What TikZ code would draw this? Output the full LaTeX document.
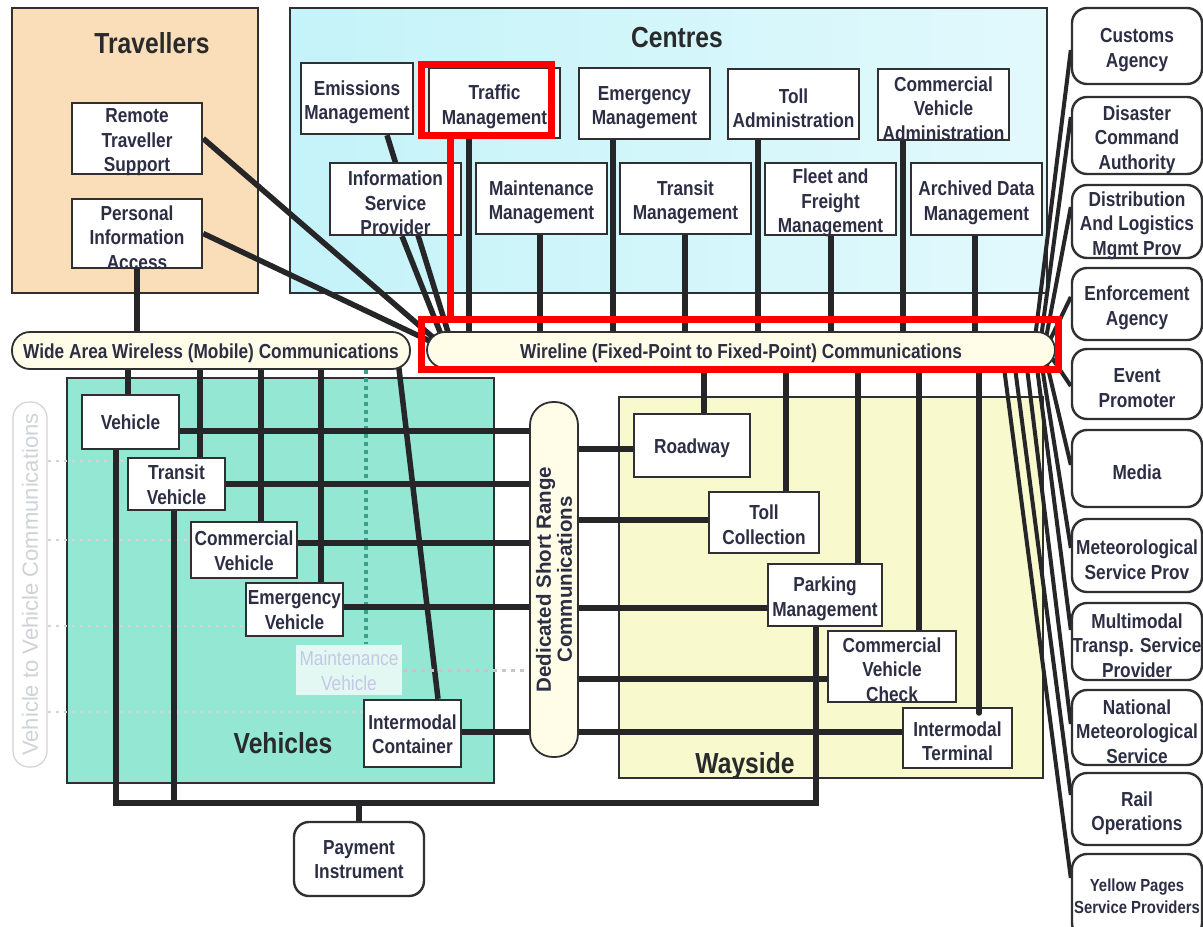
\documentclass[tikz,border=0pt]{standalone}
\usepackage{fontspec}
\setmainfont{Liberation Sans}[FakeStretch=0.85]
\newfontfamily\vvfont{Liberation Sans}
\usetikzlibrary{calc}
\pgfdeclarelayer{back}
\pgfdeclarelayer{mid}
\pgfsetlayers{back,mid,main}
\definecolor{trav}{RGB}{250,222,186}
\definecolor{centL}{RGB}{196,243,249}
\definecolor{centR}{RGB}{226,249,252}
\definecolor{veh}{RGB}{148,231,211}
\definecolor{way}{RGB}{248,250,206}
\definecolor{pillc}{RGB}{255,252,232}
\definecolor{txt}{RGB}{44,46,68}
\definecolor{titc}{RGB}{40,42,44}
\definecolor{boxc}{RGB}{48,48,50}
\definecolor{linec}{RGB}{38,38,40}
\definecolor{fadec}{RGB}{218,208,214}
\definecolor{maintc}{RGB}{196,200,228}
\definecolor{vvtext}{RGB}{206,211,216}
\definecolor{tealdot}{RGB}{58,160,140}
\newcommand\ndfont{\fontsize{20.3}{24.5}\selectfont\bfseries}
\newcommand\smfont{\fontsize{17.5}{22}\selectfont\bfseries}
\newcommand\mvfont{\fontsize{20.3}{24.5}\selectfont}
\newcommand\ttlfont{\fontsize{29}{34}\selectfont\bfseries}
\def\tsh{4}
\newcommand\mkbox[7][box]{%
  \node[#1,minimum width={(#5-#3)*1pt},minimum height={(#6-#4)*1pt}] (#2) at ({(#3+#5)/2},{(#4+#6)/2}) {};%
  \node[#1,draw=none,fill=none,minimum width=0pt,minimum height=0pt] (#2-t) at ([yshift=-\tsh pt]#2.center) {#7};}
\begin{document}
\begin{tikzpicture}[x=1pt,y=-1pt,
  box/.style={draw=boxc, line width=2.4pt, fill=white, inner sep=0pt, align=center, font=\ndfont, text=txt},
  term/.style={box, rounded corners=15pt},
  pill/.style={draw=boxc, line width=1.8pt, fill=pillc, inner sep=0pt, align=center, font=\ndfont, text=txt, rounded corners=18pt},
  area/.style={draw=boxc, line width=1.8pt},
  ttl/.style={font=\ttlfont, text=titc, anchor=base, inner sep=0pt},
  link/.style={draw=linec, line width=5.5pt},
  flink/.style={draw=linec, line width=4pt},
  fadedot/.style={draw=fadec, line width=2.5pt, dash pattern=on 3pt off 5pt},
  tdot/.style={draw=tealdot, line width=3.5pt, dash pattern=on 4pt off 4pt},
  mdot/.style={draw=fadec!85!gray, line width=3pt, dash pattern=on 4pt off 5pt},
  redl/.style={draw=red, line width=7pt, line join=miter},
  mvstyle/.style={box, draw=none, fill=white, fill opacity=0.75, text opacity=1, text=maintc, font=\mvfont},
]
\useasboundingbox (0,0) rectangle (1203,927);
\begin{pgfonlayer}{back}
\fill[white] (0,0) rectangle (1203,927);
\draw[area, fill=trav] (12,8) rectangle (258,293);
\shade[left color=centL, right color=centR] (290,8) rectangle (1047,293);
\draw[area] (290,8) rectangle (1047,293);
\draw[area, fill=veh] (67,378) rectangle (494,783);
\draw[area, fill=way] (619,397) rectangle (1043,778);
\end{pgfonlayer}

% titles
\node[ttl] (travT) at (152,53) {Travellers};
\node[ttl] (centT) at (677,47) {Centres};
\node[ttl] (vehT) at (283,753) {Vehicles};
\node[ttl] (wayT) at (745,773) {Wayside};

% travellers
\mkbox{rts}{72}{103}{202}{174}{Remote\\Traveller\\Support}
\mkbox{pia}{72}{199}{202}{268}{Personal\\Information\\Access}

% centres
\mkbox{em}{301}{63}{413}{134}{Emissions\\Management}
\mkbox{tm}{429}{68}{560}{138}{Traffic\\Management}
\mkbox{emg}{579}{68}{710}{139}{Emergency\\Management}
\mkbox{ta}{728}{69}{859}{139}{Toll\\Administration}
\mkbox{cva}{878}{69}{1009}{140}{Commercial\\Vehicle\\Administration}
\mkbox{isp}{330}{163}{461}{235}{Information\\Service\\Provider}
\mkbox{mm}{476}{163}{607}{234}{Maintenance\\Management}
\mkbox{trm}{620}{163}{751}{234}{Transit\\Management}
\mkbox{ffm}{765}{163}{896}{235}{Fleet and\\Freight\\Management}
\mkbox{adm}{911}{163}{1042}{235}{Archived Data\\Management}

% terminators
\mkbox[term]{cust}{1072}{8}{1202}{84}{Customs\\Agency}
\mkbox[term]{dis}{1072}{97}{1202}{174}{Disaster\\Command\\Authority}
\mkbox[term]{dist}{1072}{185}{1202}{258}{Distribution\\And Logistics\\Mgmt Prov}
\mkbox[term]{enf}{1072}{268}{1202}{340}{Enforcement\\Agency}
\mkbox[term]{evt}{1072}{349}{1202}{419}{Event\\Promoter}
\mkbox[term]{media}{1072}{430}{1202}{507}{Media}
\mkbox[term]{met}{1072}{519}{1202}{592}{Meteorological\\Service Prov}
\mkbox[term]{mmt}{1072}{603}{1202}{680}{Multimodal\\Transp. Service\\Provider}
\mkbox[term]{nat}{1072}{690}{1202}{765}{National\\Meteorological\\Service}
\mkbox[term]{rail}{1072}{773}{1202}{845}{Rail\\Operations}
\def\tsh{0}
\mkbox[term, font=\smfont]{yp}{1072}{854}{1202}{938}{Yellow Pages\\Service Providers}

% communications
\def\tsh{3}
\mkbox[pill]{wa}{12}{332}{410}{369}{Wide Area Wireless (Mobile) Communications}
\mkbox[pill]{wl}{427}{332}{1055}{368}{Wireline (Fixed-Point to Fixed-Point) Communications}
\node[pill, rotate=90, minimum width=355pt, minimum height=48pt, rounded corners=23pt, font=\vvfont\bfseries\fontsize{20.5}{21}\selectfont] (dsrc) at (554,579.5) {Dedicated Short Range\\Communications};
\node[rotate=90, draw=fadec, line width=1.2pt, rounded corners=16pt, minimum width=365pt, minimum height=34pt, inner sep=0pt, font=\vvfont\fontsize{22}{24}\selectfont, text=vvtext] (v2v) at (30,584.5) {Vehicle to Vehicle Communications};

% wayside
\mkbox{rw}{634}{414}{750}{477}{Roadway}
\def\tsh{2}
\mkbox{tc}{709}{492}{819}{553}{Toll\\Collection}
\def\tsh{4}
\mkbox{pm}{768}{564}{882}{626}{Parking\\Management}
\def\tsh{3}
\mkbox{cvc}{828}{631}{956}{702}{Commercial\\Vehicle\\Check}
\mkbox{it}{903}{708}{1012}{768}{Intermodal\\Terminal}

% vehicles
\def\tsh{0.5}
\mkbox{veh}{82}{395}{179}{449}{Vehicle}
\mkbox{tv}{128}{458}{225}{510}{Transit\\Vehicle}
\mkbox{cv}{191}{522}{297}{578}{Commercial\\Vehicle}
\mkbox{ev}{246}{583}{343}{636}{Emergency\\Vehicle}
\mkbox[mvstyle]{mv}{296}{645}{402}{695}{Maintenance\\Vehicle}
\mkbox{ic}{364}{700}{461}{767}{Intermodal\\Container}

% payment
\mkbox[term]{pi}{294}{822}{424}{896}{Payment\\Instrument}

\begin{pgfonlayer}{mid}
% travellers to wireline
\coordinate (wlA) at (436,340);
\coordinate (wlB) at (436,344);
\coordinate (wlC) at (444,342);
\coordinate (wlD) at (452,345);
\draw[link] (rts.east) -- (wlA);
\draw[link] (pia.east) -- (wlB);
\draw[link] (pia.south) -- (pia.south |- wa.center);
\draw[link] (387,0 |- em.south) -- (wlD);
\draw[link] (402,0 |- isp.south) -- (wlC);
% centres to wireline
\draw[link] (469,0 |- tm.south) -- (469,0 |- wl.center);
\draw[link] (613,0 |- emg.south) -- (613,0 |- wl.center);
\draw[link] (758,0 |- ta.south) -- (758,0 |- wl.center);
\draw[link] (903,0 |- cva.south) -- (903,0 |- wl.center);
\draw[link] (540,0 |- mm.south) -- (540,0 |- wl.center);
\draw[link] (685,0 |- trm.south) -- (685,0 |- wl.center);
\draw[link] (831,0 |- ffm.south) -- (831,0 |- wl.center);
\draw[link] (975,0 |- adm.south) -- (975,0 |- wl.center);
% wide area to vehicles
\draw[link] (128,0 |- wa.center) -- (128,0 |- veh.north);
\draw[link] (200,0 |- wa.center) -- (200,0 |- tv.north);
\draw[link] (261,0 |- wa.center) -- (261,0 |- cv.north);
\draw[link] (321,0 |- wa.center) -- (321,0 |- ev.north);
\coordinate (waE) at (397,352);
\draw[link] (waE) -- (438,0 |- ic.north);
\draw[tdot] (366,0 |- wa.south) -- (366,0 |- mv.north);
% vehicle to vehicle
\draw[fadedot] (v2v.south |- 0,461) -- (tv.west |- 0,461);
\draw[fadedot] (v2v.south |- 0,540) -- (cv.west |- 0,540);
\draw[fadedot] (v2v.south |- 0,626) -- (ev.west |- 0,626);
\draw[fadedot] (v2v.south |- 0,712) -- (ic.west |- 0,712);
% vehicles to DSRC
\draw[link] (veh.east |- 0,431) -- (dsrc.center |- 0,431);
\draw[link] (tv.east |- 0,484) -- (dsrc.center |- 0,484);
\draw[link] (cv.east |- 0,543) -- (dsrc.center |- 0,543);
\draw[link] (ev.east |- 0,607) -- (dsrc.center |- 0,607);
\draw[mdot] (mv.east) -- (mv.east -| dsrc.center);
\draw[link] (ic.east |- 0,732) -- (dsrc.center |- 0,732);
% DSRC to wayside
\draw[link] (dsrc.center |- 0,449) -- (rw.west |- 0,449);
\draw[link] (dsrc.center |- 0,520) -- (tc.west |- 0,520);
\draw[link] (dsrc.center |- 0,608) -- (pm.west |- 0,608);
\draw[link] (dsrc.center |- 0,679) -- (cvc.west |- 0,679);
\draw[link] (dsrc.center |- 0,732) -- (it.west |- 0,732);
% wireline to wayside
\draw[link] (704,0 |- wl.center) -- (704,0 |- rw.north);
\draw[link] (786,0 |- wl.center) -- (786,0 |- tc.north);
\draw[link] (858,0 |- wl.center) -- (858,0 |- pm.north);
\draw[link] (919,0 |- wl.center) -- (919,0 |- cvc.north);
% payment loop
\coordinate (bl1) at (116,803);
\coordinate (bl2) at (174,803);
\coordinate (br) at (816,803);
\draw[link] (116,0 |- veh.south) -- (bl1) -- (br) -- (816,0 |- pm.south);
\draw[link] (174,0 |- tv.south) -- (bl2);
\draw[link] (pi.north) -- (pi.north |- br);
% wireline to terminators
\draw[flink] (1035,338) -- (cust.west |- 0,50);
\draw[flink] (1041,338) -- (dis.west |- 0,117);
\draw[flink] (1046,338) -- (dist.west |- 0,207);
\draw[flink] (1050,340) -- (enf.west |- 0,297);
\draw[flink] (1050,355) -- (evt.west |- 0,386);
\draw[flink] (1046,360) -- (media.west |- 0,465);
\draw[flink] (1041,360) -- (met.west |- 0,548);
\draw[flink] (1036,360) -- (mmt.west |- 0,630);
\draw[flink] (1026,360) -- (nat.west |- 0,724);
\draw[flink] (1014,360) -- (rail.west |- 0,795);
\draw[flink] (1003,360) -- (yp.west |- 0,878);
\end{pgfonlayer}
\draw[link, line cap=round] (979,0 |- wl.south) -- (979,713);

% highlight
\draw[redl] (421,64) rectangle (551,135);
\draw[redl] (450,135) -- (450,319);
\draw[redl] (421,319) rectangle (1058,369);
\end{tikzpicture}
\end{document}
